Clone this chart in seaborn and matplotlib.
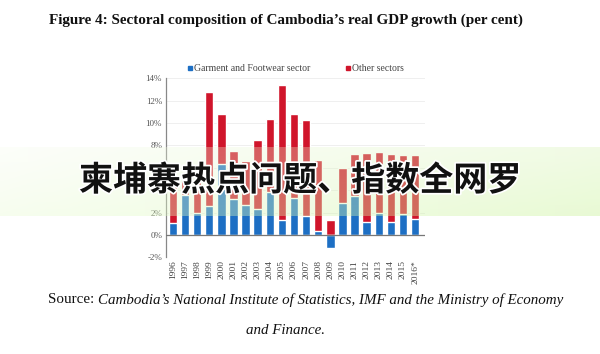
import numpy as np
import pandas as pd
import matplotlib
matplotlib.use("Agg")
import matplotlib.pyplot as plt
import matplotlib.patheffects as pe
from matplotlib.lines import Line2D
import seaborn as sns

# values (per cent)
years = ["1996", "1997", "1998", "1999", "2000", "2001", "2002", "2003", "2004", "2005",
         "2006", "2007", "2008", "2009", "2010", "2011", "2012", "2013", "2014", "2015", "2016*"]
garment = [1.1, 3.6, 2.0, 2.6, 6.3, 3.2, 2.7, 2.3, 3.8, 1.35,
           3.3, 1.65, 0.35, -1.2, 2.9, 3.5, 1.2, 2.0, 1.15, 1.9, 1.4]
total = [5.4, 5.6, 5.0, 12.8, 10.8, 7.5, 6.6, 8.5, 10.4, 13.4,
         10.8, 10.3, 6.7, 0.1, 6.0, 7.2, 7.3, 7.4, 7.2, 7.1, 7.1]
y_ticks = [-2, 0, 2, 4, 6, 8, 10, 12, 14]

blue = "#1d6fc4"
red = "#d0152b"

df = pd.DataFrame({"year": years, "garment": garment, "total": total})
df["other"] = df["total"] - df["garment"]
# top of the "other sectors" segment (stacked above positive garment part)
df["other_top"] = df["garment"].clip(lower=0) + df["other"]

sns.set_theme(style="white")
plt.rcParams["font.family"] = ["Liberation Serif", "DejaVu Serif"]

fig = plt.figure(figsize=(6, 3.54), dpi=100)
fig.patch.set_facecolor("white")
ax = fig.add_axes([0.277, 0.273, 0.431, 0.506])

sns.barplot(data=df, x="year", y="other_top", color=red, saturation=1, width=0.7, ax=ax, zorder=2)
sns.barplot(data=df, x="year", y="garment", color=blue, saturation=1, width=0.7, ax=ax, zorder=3)

ax.set_xlim(-0.55, 20.8)
ax.set_ylim(-2, 14)
ax.set_yticks(y_ticks)
ax.set_yticklabels([f"{t}%" for t in y_ticks], fontsize=6.5, color="#555555")
ax.tick_params(axis="x", labelrotation=90, labelsize=6.8, colors="#444444", length=0, pad=2)
ax.tick_params(axis="y", length=0, pad=3)
ax.set_xlabel("")
ax.set_ylabel("")
ax.yaxis.grid(True, color="#ececec", linewidth=0.6, zorder=0)
ax.axhline(0, color="#777777", linewidth=0.9, zorder=4)
for s in ["top", "right", "bottom"]:
    ax.spines[s].set_visible(False)
ax.spines["left"].set_color("#888888")
ax.spines["left"].set_linewidth(0.9)

handles = [Line2D([0], [0], marker="s", linestyle="", markersize=3.5, color=blue),
           Line2D([0], [0], marker="s", linestyle="", markersize=3.5, color=red)]
ax.legend(handles, ["Garment and Footwear sector", "Other sectors"], ncol=2, frameon=False,
          loc="lower center", bbox_to_anchor=(0.5, 1.0), fontsize=7, handlelength=0.6,
          handletextpad=0.2, columnspacing=3.5, labelcolor="#444444", borderaxespad=0.1)

# title and source
fig.text(0.476, 0.944, "Figure 4: Sectoral composition of Cambodia\u2019s real GDP growth (per cent)",
         ha="center", va="center", fontsize=10.9, fontweight="bold", color="#111111")
fig.text(0.08, 0.153, "Source:", ha="left", va="center", fontsize=10.8, color="#111111")
fig.text(0.163, 0.153, "Cambodia\u2019s National Institute of Statistics, IMF and the Ministry of Economy",
         ha="left", va="center", fontsize=10.8, style="italic", color="#111111")
fig.text(0.476, 0.065, "and Finance.", ha="center", va="center", fontsize=10.8,
         style="italic", color="#111111")

# translucent banner across the middle
band = fig.add_axes([0, 1 - 216 / 354, 1, 69 / 354], zorder=5)
h, w = 40, 200
gx = np.linspace(0, 1, w)[None, :]
gy = np.linspace(0, 1, h)[:, None]
img = np.zeros((h, w, 4))
img[..., 0] = 0.97 - 0.14 * gx - 0.05 * gy
img[..., 1] = 0.99 - 0.04 * gx
img[..., 2] = 0.94 - 0.26 * gx - 0.10 * gy
img[..., 3] = 0.32 + 0.08 * gy
band.imshow(img, aspect="auto", extent=[0, 1, 0, 1])
band.set_axis_off()
band.text(0.5, 0.52, "柬埔寨热点问题、指数全网罗", ha="center", va="center", fontsize=24.5,
          fontweight="bold", color="#111111", family=["Noto Sans CJK SC", "DejaVu Sans"],
          path_effects=[pe.withStroke(linewidth=2.5, foreground="white")])

fig.savefig("out.png", dpi=100)
